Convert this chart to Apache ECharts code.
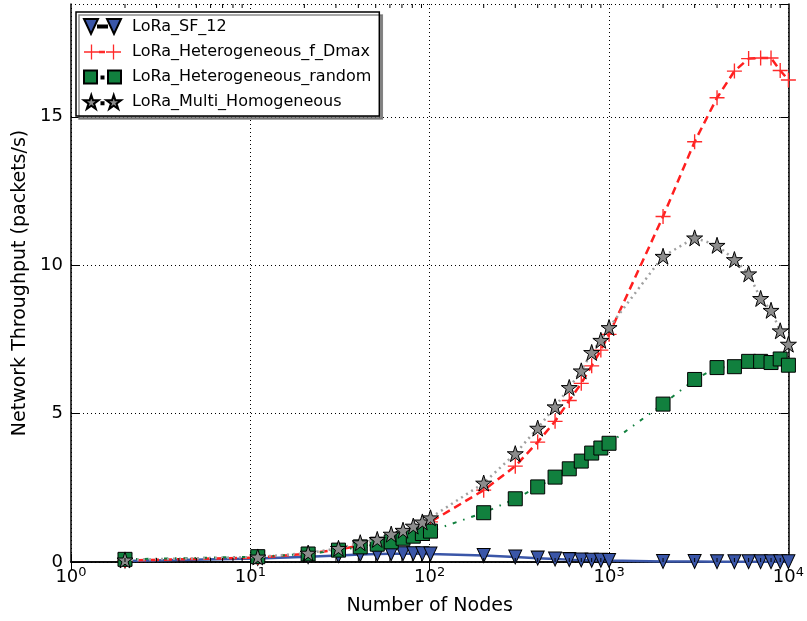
<!DOCTYPE html>
<html><head><meta charset="utf-8">
<script src="https://cdn.jsdelivr.net/npm/echarts@6/dist/echarts.min.js"></script>
<style>html,body{margin:0;padding:0;background:#fff}#c{width:807px;height:621px}</style>
</head><body><div id="c"></div><script>
// ---- data ----
const nodes = [2, 11, 21, 31, 41, 51, 61, 71, 81, 91, 101, 200, 300, 400, 500, 600, 700, 800, 900, 1000, 2000, 3000, 4000, 5000, 6000, 7000, 8000, 9000, 10000];
const sf12 = [0.03, 0.12, 0.18, 0.22, 0.25, 0.27, 0.28, 0.28, 0.28, 0.28, 0.27, 0.22, 0.17, 0.13, 0.1, 0.08, 0.07, 0.06, 0.06, 0.05, 0.02, 0.02, 0.01, 0.01, 0.01, 0.01, 0.01, 0.01, 0.01];
const hetDmax = [0.05, 0.15, 0.28, 0.42, 0.56, 0.68, 0.82, 0.95, 1.08, 1.2, 1.35, 2.42, 3.23, 4.04, 4.74, 5.44, 6.02, 6.61, 7.14, 7.67, 11.64, 14.16, 15.64, 16.54, 16.96, 16.98, 16.98, 16.56, 16.24];
const hetRandom = [0.09, 0.18, 0.27, 0.4, 0.51, 0.6, 0.68, 0.8, 0.87, 0.96, 1.04, 1.66, 2.13, 2.53, 2.86, 3.14, 3.4, 3.67, 3.84, 4.0, 5.32, 6.15, 6.55, 6.58, 6.76, 6.76, 6.72, 6.84, 6.63];
const multiHom = [0.07, 0.17, 0.3, 0.46, 0.65, 0.76, 0.94, 1.07, 1.21, 1.35, 1.49, 2.66, 3.65, 4.51, 5.23, 5.88, 6.44, 7.06, 7.47, 7.9, 10.3, 10.92, 10.67, 10.19, 9.71, 8.88, 8.48, 7.79, 7.34];
const seriesNames = ['LoRa_SF_12', 'LoRa_Heterogeneous_f_Dmax', 'LoRa_Heterogeneous_random', 'LoRa_Multi_Homogeneous'];
const xTickExponents = [0, 1, 2, 3, 4];
const yTicks = [0, 5, 10, 15];
const minorTickValues = [2,3,4,5,6,7,8,9,20,30,40,50,60,70,80,90,200,300,400,500,600,700,800,900,2000,3000,4000,5000,6000,7000,8000,9000];

// ---- symbol paths (styling) ----
function starPts(cx, cy, r) {
  const pts = [];
  for (let k = 0; k < 10; k++) {
    const ang = Math.PI / 2 - k * Math.PI / 5;
    const rr = k % 2 === 0 ? r : r * 0.382;
    pts.push([cx + rr * Math.cos(ang), cy - rr * Math.sin(ang)]);
  }
  return 'M' + pts.map(p => p[0].toFixed(2) + ',' + p[1].toFixed(2)).join('L') + 'Z';
}
function plusPts(cx, cy, r, t) {
  const h = t / 2;
  return `M${cx-h},${cy-r}H${cx+h}V${cy-h}H${cx+r}V${cy+h}H${cx+h}V${cy+r}H${cx-h}V${cy+h}H${cx-r}V${cy-h}H${cx-h}Z`;
}
const starSym = 'path://' + starPts(50, 52.4, 50);
const plusSym = 'path://' + plusPts(50, 50, 50, 9);
const legTri = 'path://M0,0L14,0L7,15ZM23,0L37,0L30,15ZM14,6.5L23,6.5L23,8.5L14,8.5Z';
const legPlus = 'path://' + plusPts(7.5, 7.5, 7.5, 1.3) + plusPts(29.5, 7.5, 7.5, 1.3) + 'M15,6.3H21V8.7H15Z';
const legSq = 'path://M0,1H13V14H0ZM24,1H37V14H24ZM17.5,7H19.5V9H17.5Z';
const legStar = 'path://' + starPts(7.5, 7.9, 7.5) + starPts(29.5, 7.9, 7.5) + 'M17.5,7.5H19.5V9.5H17.5Z';

const FONT = 'DejaVu Sans';
const pairs = arr => nodes.map((n, i) => [n, arr[i]]);
const chart = echarts.init(document.getElementById('c'), null, {renderer: 'canvas'});

const grid = {left: 71, right: 16, top: 4, bottom: 59, show: false};
const Y_MAX = 18.8;

chart.setOption({
  animation: false,
  backgroundColor: '#fff',
  grid: grid,
  legend: {
    orient: 'vertical', left: 76, top: 12,
    backgroundColor: '#fff', borderColor: '#000', borderWidth: 1.5,
    shadowColor: 'rgba(110,110,110,0.8)', shadowBlur: 0, shadowOffsetX: 3, shadowOffsetY: 3,
    padding: [6, 8, 6, 7], itemGap: 9, itemWidth: 37, itemHeight: 15,
    textStyle: {fontFamily: FONT, fontSize: 16, color: '#000', padding: [0, 0, 0, 6]},
    data: [
      {name: seriesNames[0], icon: legTri, iconRotate: 0},
      {name: seriesNames[1], icon: legPlus, iconRotate: 0},
      {name: seriesNames[2], icon: legSq, iconRotate: 0},
      {name: seriesNames[3], icon: legStar, iconRotate: 0}
    ]
  },
  xAxis: [{
    type: 'log', logBase: 10, min: 1, max: 10000,
    name: 'Number of Nodes', nameLocation: 'middle', nameGap: 35,
    nameTextStyle: {fontFamily: FONT, fontSize: 19, color: '#000'},
    axisLine: {show: true, lineStyle: {color: '#000', width: 1.5}},
    axisTick: {show: true, inside: true, length: 8, lineStyle: {color: '#000', width: 1}},
    splitLine: {show: true, lineStyle: {color: '#000', width: 1, type: [1, 3]}},
    axisLabel: {
      margin: 4, color: '#000', fontFamily: FONT,
      formatter: v => { const e = Math.round(Math.log10(v)); return xTickExponents.indexOf(e) >= 0 ? '{b|10}{s|' + e + '}' : ''; },
      rich: {b: {fontFamily: FONT, fontSize: 18, color: '#000'}, s: {fontFamily: FONT, fontSize: 13, color: '#000', padding: [0, 0, 10, 0]}}
    }
  }, {
    type: 'log', logBase: 10, min: 1, max: 10000, position: 'top',
    axisLine: {show: true, lineStyle: {color: '#000', width: 1.5}},
    axisTick: {show: true, inside: true, length: 8, lineStyle: {color: '#000', width: 1}},
    splitLine: {show: false}, axisLabel: {show: false}
  }],
  yAxis: [{
    type: 'value', min: 0, max: Y_MAX, interval: 5,
    name: 'Network Throughput (packets/s)', nameLocation: 'middle', nameGap: 38, nameRotate: 90,
    nameTextStyle: {fontFamily: FONT, fontSize: 19, color: '#000'},
    axisLine: {show: true, lineStyle: {color: '#000', width: 1.5}},
    axisTick: {show: true, inside: true, length: 8, lineStyle: {color: '#000', width: 1}},
    splitLine: {show: true, lineStyle: {color: '#000', width: 1, type: [1, 3]}},
    axisLabel: {
      margin: 8, fontFamily: FONT, fontSize: 18, color: '#000', showMaxLabel: false,
      formatter: v => (yTicks.indexOf(v) >= 0 ? String(v) : '')
    }
  }, {
    type: 'value', min: 0, max: Y_MAX, interval: 5, position: 'right',
    axisLine: {show: true, lineStyle: {color: '#000', width: 1.5}},
    axisTick: {show: true, inside: true, length: 8, lineStyle: {color: '#000', width: 1}},
    splitLine: {show: false}, axisLabel: {show: false}
  }],
  series: [
    {
      name: seriesNames[0], type: 'line', data: pairs(sf12), z: 3,
      symbol: 'triangle', symbolRotate: 180, symbolSize: [13, 14],
      lineStyle: {color: '#3a56a8', width: 2.5},
      itemStyle: {color: '#3a56a8', borderColor: '#000', borderWidth: 1}
    },
    {
      name: seriesNames[1], type: 'line', data: pairs(hetDmax), z: 4,
      symbol: plusSym, symbolSize: 15,
      lineStyle: {color: '#ff1f1f', width: 2.5, type: [8, 5]},
      itemStyle: {color: '#ff2a2a', borderWidth: 0}
    },
    {
      name: seriesNames[2], type: 'line', data: pairs(hetRandom), z: 5,
      symbol: 'rect', symbolSize: 14,
      lineStyle: {color: '#11803e', width: 2, type: [4, 7, 1.5, 7]},
      itemStyle: {color: '#11803e', borderColor: '#000', borderWidth: 1}
    },
    {
      name: seriesNames[3], type: 'line', data: pairs(multiHom), z: 6,
      symbol: starSym, symbolSize: 16,
      lineStyle: {color: '#a0a0a0', width: 2.5, type: [2, 4]},
      itemStyle: {color: '#8c8c8c', borderColor: '#000', borderWidth: 1}
    },
    {
      name: 'minorTicks', type: 'custom', silent: true, z: 10,
      data: minorTickValues.map(v => [v, 0]),
      clip: false,
      renderItem: function (params, api) {
        const cs = params.coordSys;
        const x = api.coord([api.value(0), 0])[0];
        const yb = cs.y + cs.height, yt = cs.y;
        const st = {stroke: '#000', lineWidth: 1};
        return {type: 'group', children: [
          {type: 'line', shape: {x1: x, y1: yb, x2: x, y2: yb - 4}, style: st},
          {type: 'line', shape: {x1: x, y1: yt, x2: x, y2: yt + 4}, style: st}
        ]};
      }
    }
  ]
});
</script></body></html>
